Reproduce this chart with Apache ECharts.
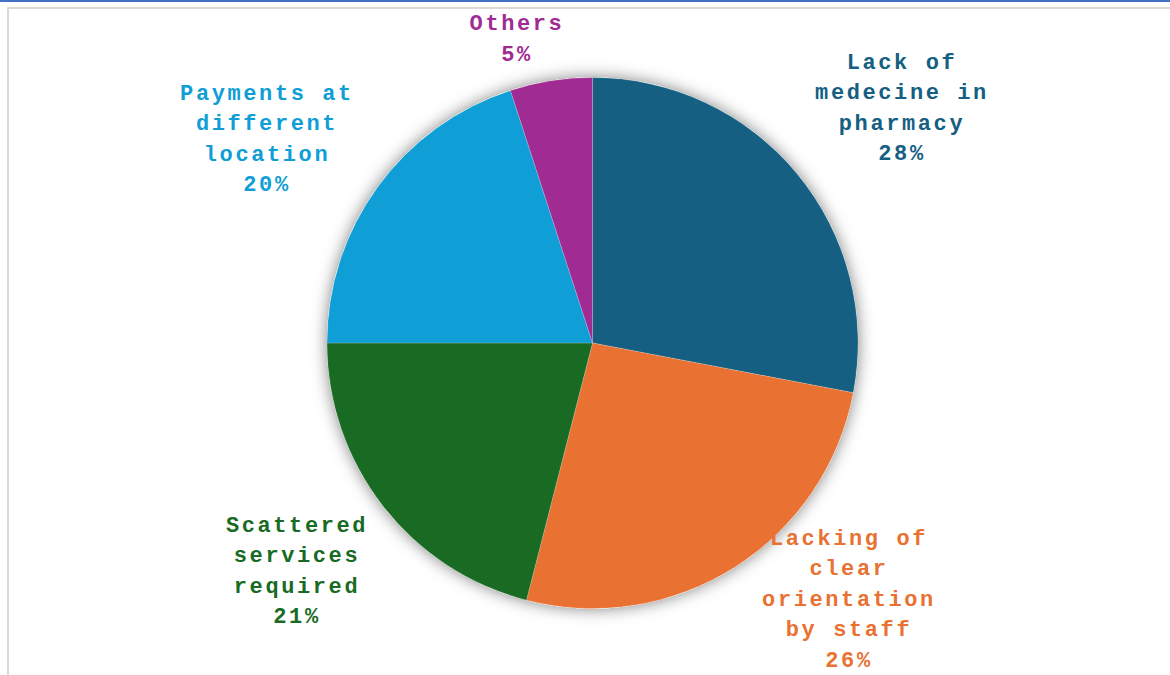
<!DOCTYPE html>
<html>
<head>
<meta charset="utf-8">
<script src="https://cdn.jsdelivr.net/npm/echarts@6/dist/echarts.min.js"></script>
<style>
  html, body { margin: 0; padding: 0; background: #fff; }
  body { width: 1170px; height: 675px; overflow: hidden; position: relative; }
  .topline { position: absolute; left: 0; top: 0; width: 1170px; height: 2px; background: #4472c4; }
  .frame { position: absolute; left: 7px; top: 7px; width: 1163px; height: 668px;
           border-top: 2px solid #d9d9d9; border-left: 2px solid #d9d9d9; box-sizing: border-box; }
  #chart { position: absolute; left: 0; top: 0; width: 1170px; height: 675px; }
  #chart text { letter-spacing: 2.6px; }
</style>
</head>
<body>
<div class="topline"></div>
<div class="frame"></div>
<div id="chart"></div>
<script>
// Reasons reported, share of responses (%)
const categories = [
  'Lack of\nmedecine in\npharmacy',
  'Lacking of\nclear\norientation\nby staff',
  'Scattered\nservices\nrequired',
  'Payments at\ndifferent\nlocation',
  'Others'
];
const shares = [28, 26, 21, 20, 5];
const sliceColors = ['#156082', '#e97132', '#196b24', '#0f9ed5', '#a02b93'];

// Label block centres, in pixels
const labelCentres = [
  [902, 109],
  [849, 600],
  [297, 572],
  [267, 140],
  [517, 40]
];

const pieCenter = [592.5, 343];
const pieRadius = 265.5;

const chart = echarts.init(document.getElementById('chart'), null, { renderer: 'svg' });

chart.setOption({
  animation: false,
  series: [
    {
      // soft drop shadow behind the whole pie (outer rim only)
      type: 'pie',
      silent: true,
      z: 1,
      center: pieCenter,
      radius: pieRadius,
      data: [{ value: 1, name: '' }],
      itemStyle: {
        color: '#ffffff',
        shadowBlur: 16,
        shadowColor: 'rgba(0,0,0,0.5)'
      },
      label: { show: false },
      labelLine: { show: false },
      emphasis: { disabled: true },
      tooltip: { show: false }
    },
    {
      type: 'pie',
      z: 2,
      center: pieCenter,
      radius: pieRadius,
      startAngle: 90,
      clockwise: true,
      data: categories.map((name, i) => ({
        name: name,
        value: shares[i],
        itemStyle: { color: sliceColors[i] },
        label: { color: sliceColors[i] }
      })),
      itemStyle: {
        borderColor: 'rgba(255,255,255,0.35)',
        borderWidth: 0.5
      },
      emphasis: { disabled: true },
      label: {
        show: true,
        position: 'outside',
        formatter: '{b}\n{c}%',
        fontFamily: '"Liberation Mono", "Courier New", monospace',
        fontWeight: 'bold',
        fontSize: 22,
        lineHeight: 30.5,
        align: 'center'
      },
      labelLine: { show: false },
      labelLayout: function (params) {
        const p = labelCentres[params.dataIndex];
        return { x: p[0], y: p[1], align: 'center', verticalAlign: 'middle' };
      }
    }
  ]
});
</script>
</body>
</html>
